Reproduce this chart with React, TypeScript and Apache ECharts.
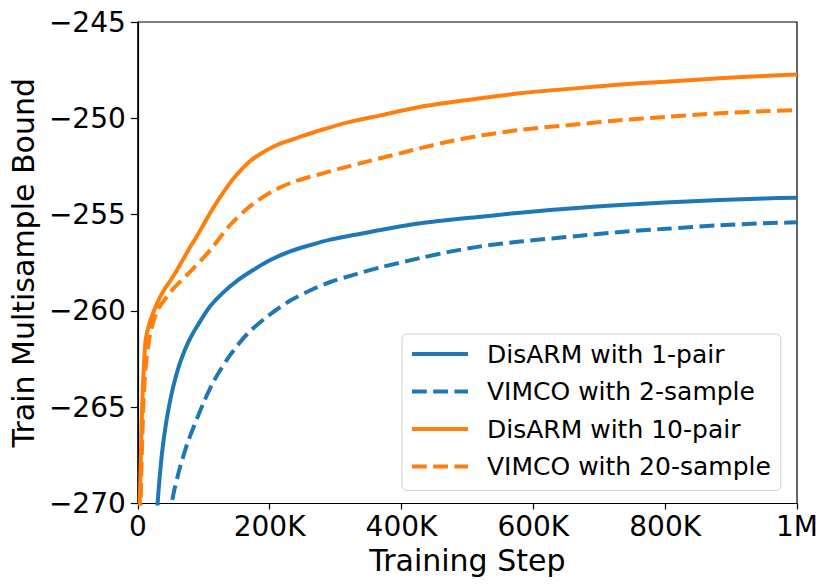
import React, { useEffect, useRef } from "react";
import * as echarts from "echarts";

const seriesNames = [
  "DisARM with 1-pair",
  "VIMCO with 2-sample",
  "DisARM with 10-pair",
  "VIMCO with 20-sample",
];

const xTickLabels = ["0", "200K", "400K", "600K", "800K", "1M"];

const disarm1: [number, number][] = [
  [28500, -271.0], [30000, -270], [33000, -268.7], [37000, -267.3], [43000, -265.8],
  [50000, -264.5], [57000, -263.5], [65000, -262.6], [77000, -261.6], [90000, -260.8],
  [110000, -259.75], [131000, -259.0], [150000, -258.45], [175000, -257.88], [201000, -257.36],
  [232000, -256.9], [260000, -256.6], [292000, -256.3], [330000, -256.05], [368000, -255.8],
  [429000, -255.45], [520000, -255.11], [580000, -254.9], [671000, -254.64], [732000, -254.5],
  [800000, -254.37], [883000, -254.24], [950000, -254.16], [1000000, -254.12],
];

const vimco2: [number, number][] = [
  [48000, -270.9], [51500, -270], [55000, -269.35], [60000, -268.65], [65000, -268.0],
  [75000, -266.9], [85000, -266.0], [100000, -264.75], [116000, -263.6], [140000, -262.3],
  [166000, -261.2], [200000, -260.2], [232000, -259.45], [267000, -258.85], [292000, -258.5],
  [330000, -258.1], [368000, -257.74], [429000, -257.25], [470000, -256.95], [520000, -256.65],
  [580000, -256.4], [671000, -256.1], [732000, -255.9], [800000, -255.74], [883000, -255.55],
  [950000, -255.45], [1000000, -255.4],
];

const disarm10: [number, number][] = [
  [2000, -273], [3000, -270], [5000, -267], [7000, -264.6], [9000, -263],
  [12000, -261.5], [18000, -260.6], [25000, -259.95], [32000, -259.4], [40000, -258.9],
  [50000, -258.4], [60000, -257.85], [70000, -257.25], [80000, -256.65], [90000, -256.1],
  [100000, -255.5], [110000, -254.9], [121000, -254.3], [141000, -253.3], [156000, -252.7],
  [171000, -252.2], [186000, -251.85], [201000, -251.56], [216000, -251.32], [232000, -251.13],
  [247000, -250.95], [265000, -250.75], [282000, -250.57], [320000, -250.2], [368000, -249.85],
  [429000, -249.4], [520000, -248.96], [580000, -248.7], [671000, -248.42], [732000, -248.25],
  [800000, -248.1], [883000, -247.92], [950000, -247.8], [1000000, -247.72],
];

const vimco20: [number, number][] = [
  [3500, -273], [4500, -269.8], [7000, -266.4], [9000, -264.5], [12000, -262.9],
  [16000, -261.8], [20000, -261.0], [30000, -259.95], [40000, -259.45], [55000, -258.8],
  [80000, -257.95], [110000, -256.84], [141000, -255.5], [171000, -254.55], [201000, -253.85],
  [232000, -253.35], [260000, -253.05], [282000, -252.85], [308000, -252.6], [353000, -252.2],
  [400000, -251.8], [429000, -251.55], [470000, -251.22], [520000, -250.9], [580000, -250.6],
  [671000, -250.3], [732000, -250.1], [800000, -249.93], [883000, -249.74], [950000, -249.63],
  [1000000, -249.57],
];

const seriesData = [disarm1, vimco2, disarm10, vimco20];
const seriesColors = ["#1f77b4", "#1f77b4", "#ff7f0e", "#ff7f0e"];
const seriesDashed = [false, true, false, true];

const FONT = "DejaVu Sans";

export default function App() {
  const ref = useRef<HTMLDivElement>(null);
  useEffect(() => {
    document.body.style.margin = "0";
    const chart = echarts.init(ref.current!, null, { renderer: "svg" });
    chart.setOption({
      animation: false,
      backgroundColor: "#ffffff",
      grid: {
        left: 137,
        right: 33,
        top: 22,
        bottom: 84.5,
        show: true,
        borderColor: "#000000",
        borderWidth: 1.2,
        backgroundColor: "transparent",
      },
      xAxis: {
        type: "value",
        min: 0,
        max: 1000000,
        interval: 200000,
        name: "Training Step",
        nameLocation: "middle",
        nameGap: 40,
        nameTextStyle: { fontSize: 30, fontFamily: FONT, color: "#000" },
        axisLine: { show: true, lineStyle: { color: "#000", width: 1.2 } },
        axisTick: { show: true, length: 6, inside: false, lineStyle: { color: "#000", width: 1.2 } },
        axisLabel: {
          fontSize: 28,
          fontFamily: FONT,
          color: "#000",
          margin: 9,
          formatter: (v: number) => xTickLabels[Math.round(v / 200000)] ?? "",
        },
        splitLine: { show: false },
      },
      yAxis: {
        type: "value",
        min: -270,
        max: -245,
        interval: 5,
        name: "Train Multisample Bound",
        nameLocation: "middle",
        nameRotate: 90,
        nameGap: 95,
        nameTextStyle: { fontSize: 30, fontFamily: FONT, color: "#000" },
        axisLine: { show: true, lineStyle: { color: "#000", width: 1.2 } },
        axisTick: { show: true, length: 7, inside: false, lineStyle: { color: "#000", width: 1.2 } },
        axisLabel: {
          fontSize: 28,
          fontFamily: FONT,
          color: "#000",
          margin: 12,
          formatter: (v: number) => (v < 0 ? "\u2212" + Math.abs(v) : String(v)),
        },
        splitLine: { show: false },
      },
      legend: {
        left: 402,
        top: 334,
        orient: "vertical",
        itemWidth: 56,
        itemHeight: 14,
        itemGap: 9.5,
        padding: [6, 10, 10, 8],
        backgroundColor: "rgba(255,255,255,0.8)",
        borderColor: "#d0d0d0",
        borderWidth: 1,
        borderRadius: 5,
        itemStyle: { opacity: 0, borderWidth: 0 },
        lineStyle: { width: 4, opacity: 1 },
        textStyle: {
          fontSize: 25,
          fontFamily: FONT,
          color: "#000",
          lineHeight: 28,
          padding: [0, 0, 0, 14],
        },
        data: seriesNames,
      },
      series: seriesNames.map((name, i) => ({
        name,
        type: "line",
        data: seriesData[i],
        symbol: "none",
        smooth: 0.3,
        clip: true,
        color: seriesColors[i],
        lineStyle: {
          color: seriesColors[i],
          width: 4,
          type: seriesDashed[i] ? [14.8, 6.4] : "solid",
        },
        z: 2 + i,
      })),
    });
    return () => chart.dispose();
  }, []);
  return (
    <div
      ref={ref}
      style={{ position: "fixed", left: 0, top: 0, width: 830, height: 588 }}
    />
  );
}
